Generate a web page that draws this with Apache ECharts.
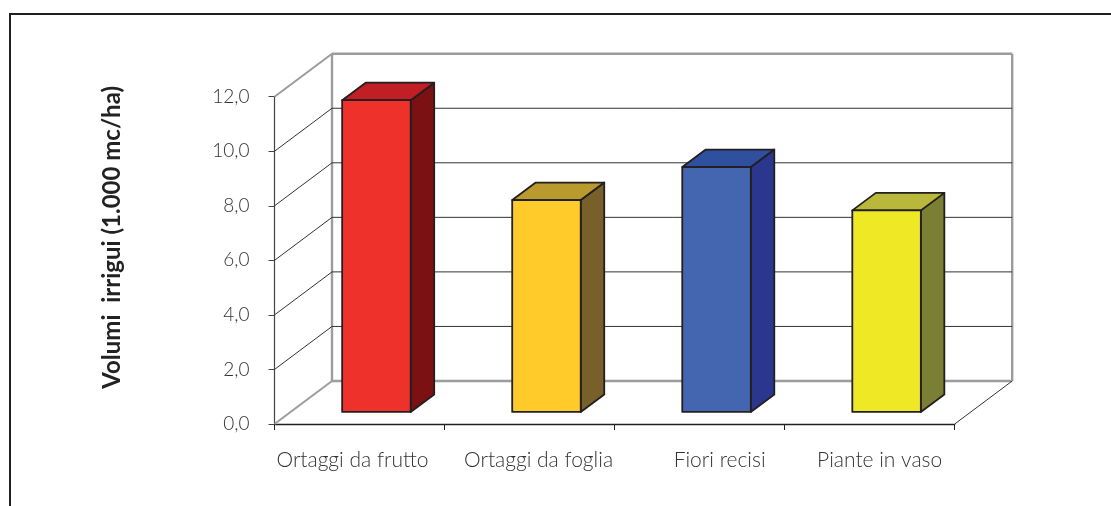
<!DOCTYPE html>
<html><head><meta charset="utf-8">
<style>html,body{margin:0;padding:0;background:#fff}#c{width:1111px;height:506px}</style>
<script src="https://cdn.jsdelivr.net/npm/echarts@6/dist/echarts.min.js"></script>
</head><body><div id="c"></div>
<script>
const categories = ['Ortaggi da frutto','Ortaggi da foglia','Fiori recisi','Piante in vaso'];
const values = [11.43, 7.77, 8.98, 7.39];
const yTicks = [0,2,4,6,8,10,12];
const frontColors = ['#EE322B','#FFCB2B','#4466B0','#EEE825'];
const topColors = ['#C11F24','#B99A2E','#2F4F9F','#B9B83A'];
const sideColors = ['#7B1113','#77602A','#2B378E','#7B7F33'];
const labelShift = [-7, 9, 20, 10];

const WALL_DX = 57.5, WALL_DY = -43;
const BAR_INSET = 0.28, BAR_NUDGE = 0.8, BAR_DX = 23.5, BAR_DY = -17.5, BAR_W = 0.403;
const GREY = '#9C9CA0', DARK = '#333';
const INK = '#231F20';

function line(x1,y1,x2,y2,stroke,lineWidth){
  return {type:'line',shape:{x1,y1,x2,y2},style:{stroke,lineWidth,fill:null}};
}
function wall(params, api){
  const cs = params.coordSys;
  const v = api.value(1);
  const y = api.coord([0,v])[1];
  const L = cs.x, R = cs.x+cs.width;
  const edge = v===0 || v===12;
  const children = [];
  const diag = edge ? GREY : DARK;
  children.push(line(L,y,L+WALL_DX,y+WALL_DY,diag,edge?2:1));
  children.push(line(L+WALL_DX,y+WALL_DY,R+WALL_DX,y+WALL_DY,edge?GREY:DARK,edge?2.4:1));
  if(v===0){
    const top = api.coord([0,12])[1];
    children.push(line(L+WALL_DX,y+WALL_DY,L+WALL_DX,top+WALL_DY,GREY,2.4));
    children.push(line(R+WALL_DX,y+WALL_DY,R+WALL_DX,top+WALL_DY,GREY,2.4));
    children.push(line(R,y,R+WALL_DX,y+WALL_DY,DARK,1));
  }
  return {type:'group',children};
}
function bar(params, api){
  const i = api.value(0), v = api.value(1);
  const band = api.size([1,0])[0];
  const w = band*BAR_W;
  const ox = WALL_DX*BAR_INSET+BAR_NUDGE, oy = WALL_DY*BAR_INSET;
  const top = api.coord([i,v]), base = api.coord([i,0]);
  const x0 = top[0]-w/2+ox, x1 = x0+w, yt = top[1]+oy, yb = base[1]+oy;
  const st = fill => ({fill,stroke:INK,lineWidth:1.8,lineJoin:'round'});
  return {type:'group',children:[
    {type:'polygon',shape:{points:[[x1,yt],[x1+BAR_DX,yt+BAR_DY],[x1+BAR_DX,yb+BAR_DY],[x1,yb]]},style:st(sideColors[i])},
    {type:'polygon',shape:{points:[[x0,yt],[x0+BAR_DX,yt+BAR_DY],[x1+BAR_DX,yt+BAR_DY],[x1,yt]]},style:st(topColors[i])},
    {type:'rect',shape:{x:x0,y:yt,width:w,height:yb-yt},style:st(frontColors[i])}
  ]};
}
const rich = {};
labelShift.forEach((d,i)=>{
  rich['l'+i] = {fontFamily:'Lato',fontSize:21,fontWeight:300,color:'#333',
    padding: d>=0 ? [0,0,0,2*d] : [0,2*-d,0,0]};
});
const chart = echarts.init(document.getElementById('c'),null,{renderer:'canvas'});
chart.setOption({
  animation:false,
  backgroundColor:'#fff',
  grid:{left:274.5,right:156.3,top:96.7,bottom:82},
  xAxis:{type:'category',data:categories,
    axisLine:{lineStyle:{color:INK,width:1.4}},
    axisTick:{show:true,alignWithLabel:false,length:6,lineStyle:{color:INK,width:1}},
    axisLabel:{margin:26,interval:0,
      formatter:(val,idx)=>`{l${idx}|${val}}`,rich},
    splitLine:{show:false}},
  yAxis:{type:'value',min:0,max:12,interval:2,
    name:'Volumi  irrigui (1.000 mc/ha)',nameLocation:'middle',nameRotate:90,nameGap:150,
    nameTextStyle:{fontFamily:'Lato',fontSize:24,fontWeight:'bold',color:'#222',padding:[0,0,0,46]},
    axisLine:{show:true,lineStyle:{color:'#444',width:1.2}},
    axisTick:{show:true,length:6,lineStyle:{color:'#444',width:1}},
    axisLabel:{margin:25,fontFamily:'Lato',fontSize:19,fontWeight:300,color:'#333',
      padding:[0,0,9,0],formatter:v=>v.toFixed(1).replace('.',',')},
    splitLine:{show:false}},
  series:[
    {type:'custom',renderItem:wall,coordinateSystem:'cartesian2d',silent:true,z:1,
     data:yTicks.map(t=>[0,t])},
    {type:'custom',renderItem:bar,coordinateSystem:'cartesian2d',z:3,
     data:values.map((v,i)=>[i,v])}
  ],
  graphic:[{type:'polyline',silent:true,
    shape:{points:[[10,510],[10,14],[1115,14]]},
    style:{stroke:'#231F20',lineWidth:2,fill:null}}]
});
</script></body></html>
